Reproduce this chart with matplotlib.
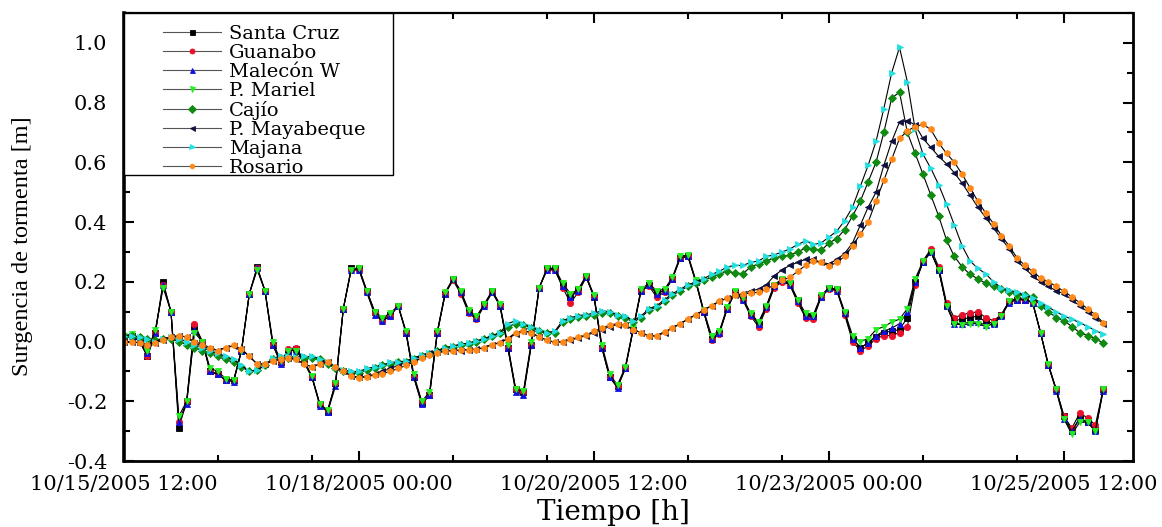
import numpy as np
import pandas as pd
import matplotlib
matplotlib.use('Agg')
import matplotlib.pyplot as plt
import matplotlib.dates as mdates
from matplotlib.ticker import FixedLocator, MultipleLocator, FormatStrFormatter
from matplotlib.patches import Rectangle

plt.rcParams['axes.unicode_minus'] = False

# time axis: one reading every 2 h starting 10/15/2005 12:00
start = pd.Timestamp('2005-10-15 12:00')
hours = np.arange(0, 251, 2)
times = start + pd.to_timedelta(hours, unit='h')

santa_cruz = [
    0.01, 0.02, 0.0, -0.05, 0.03, 0.2, 0.1, -0.29, -0.2, 0.05,
    0.0, -0.1, -0.11, -0.13, -0.13, -0.03, 0.16, 0.25, 0.17, -0.01,
    -0.07, -0.03, -0.025, -0.07, -0.12, -0.21, -0.235, -0.14, 0.11, 0.245,
    0.245, 0.17, 0.1, 0.075, 0.09, 0.12, 0.03, -0.12, -0.205, -0.18,
    0.03, 0.16, 0.21, 0.165, 0.1, 0.08, 0.125, 0.17, 0.12, -0.02,
    -0.16, -0.17, -0.01, 0.18, 0.245, 0.245, 0.19, 0.15, 0.175, 0.22,
    0.15, -0.02, -0.12, -0.15, -0.09, 0.04, 0.17, 0.19, 0.165, 0.17,
    0.21, 0.28, 0.285, 0.2, 0.1, 0.01, 0.03, 0.11, 0.165, 0.145,
    0.09, 0.06, 0.115, 0.185, 0.205, 0.195, 0.14, 0.085, 0.085, 0.15,
    0.18, 0.175, 0.095, 0.01, -0.02, -0.005, 0.015, 0.03, 0.035, 0.04,
    0.08, 0.2, 0.265, 0.3, 0.24, 0.12, 0.07, 0.075, 0.08, 0.085,
    0.065, 0.063, 0.09, 0.135, 0.14, 0.14, 0.13, 0.03, -0.08, -0.16,
    -0.25, -0.3, -0.255, -0.27, -0.295, -0.16]

guanabo = [
    0.01, 0.02, 0.0, -0.05, 0.03, 0.19, 0.1, -0.27, -0.2, 0.06,
    0.0, -0.1, -0.11, -0.13, -0.13, -0.03, 0.16, 0.245, 0.17, -0.01,
    -0.07, -0.025, -0.02, -0.065, -0.12, -0.21, -0.23, -0.14, 0.11, 0.24,
    0.24, 0.165, 0.095, 0.07, 0.085, 0.12, 0.03, -0.12, -0.2, -0.18,
    0.03, 0.16, 0.205, 0.16, 0.095, 0.075, 0.12, 0.165, 0.12, -0.02,
    -0.16, -0.17, -0.01, 0.18, 0.24, 0.24, 0.18, 0.13, 0.165, 0.215,
    0.15, -0.02, -0.12, -0.15, -0.09, 0.04, 0.17, 0.185, 0.15, 0.165,
    0.21, 0.28, 0.285, 0.2, 0.1, 0.005, 0.025, 0.11, 0.165, 0.14,
    0.085, 0.05, 0.11, 0.18, 0.2, 0.19, 0.13, 0.08, 0.075, 0.15,
    0.175, 0.17, 0.09, 0.0, -0.03, -0.015, 0.01, 0.02, 0.02, 0.03,
    0.05, 0.19, 0.27, 0.31, 0.25, 0.13, 0.08, 0.09, 0.095, 0.1,
    0.08, 0.07, 0.09, 0.135, 0.14, 0.14, 0.13, 0.03, -0.08, -0.16,
    -0.25, -0.29, -0.24, -0.255, -0.28, -0.16]

malecon_w = [
    0.01, 0.02, 0.0, -0.04, 0.03, 0.19, 0.1, -0.27, -0.21, 0.04,
    0.0, -0.1, -0.11, -0.13, -0.135, -0.03, 0.16, 0.245, 0.17, -0.01,
    -0.075, -0.03, -0.03, -0.07, -0.12, -0.215, -0.235, -0.15, 0.11, 0.24,
    0.24, 0.165, 0.09, 0.07, 0.085, 0.12, 0.03, -0.12, -0.21, -0.18,
    0.03, 0.16, 0.21, 0.165, 0.1, 0.08, 0.12, 0.165, 0.12, -0.02,
    -0.17, -0.18, -0.01, 0.18, 0.24, 0.24, 0.185, 0.15, 0.17, 0.215,
    0.15, -0.02, -0.12, -0.155, -0.09, 0.04, 0.17, 0.19, 0.16, 0.17,
    0.21, 0.28, 0.285, 0.2, 0.1, 0.01, 0.03, 0.11, 0.165, 0.14,
    0.09, 0.06, 0.115, 0.185, 0.205, 0.19, 0.135, 0.085, 0.085, 0.15,
    0.18, 0.17, 0.095, 0.01, -0.02, -0.005, 0.02, 0.035, 0.045, 0.06,
    0.1, 0.2, 0.265, 0.3, 0.24, 0.12, 0.06, 0.06, 0.065, 0.065,
    0.055, 0.06, 0.085, 0.13, 0.14, 0.14, 0.13, 0.03, -0.08, -0.165,
    -0.26, -0.3, -0.26, -0.27, -0.3, -0.165]

p_mariel = [
    0.02, 0.025, 0.01, -0.03, 0.04, 0.18, 0.1, -0.25, -0.2, 0.03,
    0.0, -0.09, -0.1, -0.125, -0.13, -0.03, 0.16, 0.24, 0.17, 0.0,
    -0.065, -0.03, -0.03, -0.065, -0.115, -0.21, -0.23, -0.14, 0.11, 0.24,
    0.245, 0.17, 0.1, 0.08, 0.095, 0.12, 0.035, -0.11, -0.2, -0.17,
    0.035, 0.165, 0.21, 0.17, 0.105, 0.085, 0.125, 0.17, 0.125, -0.01,
    -0.16, -0.165, 0.0, 0.18, 0.245, 0.245, 0.195, 0.16, 0.175, 0.22,
    0.155, -0.01, -0.11, -0.145, -0.085, 0.045, 0.175, 0.195, 0.17, 0.175,
    0.215, 0.285, 0.29, 0.205, 0.105, 0.02, 0.035, 0.115, 0.17, 0.145,
    0.095, 0.065, 0.12, 0.19, 0.21, 0.195, 0.14, 0.095, 0.09, 0.155,
    0.18, 0.175, 0.1, 0.02, 0.0, 0.01, 0.04, 0.05, 0.065, 0.075,
    0.11, 0.21, 0.27, 0.3, 0.24, 0.12, 0.06, 0.055, 0.06, 0.06,
    0.05, 0.06, 0.085, 0.135, 0.145, 0.145, 0.13, 0.03, -0.075, -0.16,
    -0.26, -0.31, -0.27, -0.27, -0.3, -0.16]

cajio = [
    0.02, 0.02, 0.015, 0.01, 0.005, 0.01, 0.01, 0.0, -0.01, -0.02,
    -0.03, -0.04, -0.05, -0.06, -0.07, -0.085, -0.1, -0.095, -0.08, -0.06,
    -0.055, -0.055, -0.055, -0.055, -0.055, -0.06, -0.075, -0.09, -0.1, -0.105,
    -0.105, -0.095, -0.09, -0.08, -0.075, -0.07, -0.068, -0.058, -0.048, -0.043,
    -0.033, -0.023, -0.018, -0.01, -0.007, 0.0, 0.007, 0.017, 0.027, 0.05,
    0.06, 0.055, 0.045, 0.035, 0.027, 0.03, 0.065, 0.075, 0.082, 0.085,
    0.09, 0.097, 0.095, 0.085, 0.08, 0.065, 0.08, 0.105, 0.115, 0.135,
    0.155, 0.17, 0.185, 0.195, 0.205, 0.215, 0.225, 0.235, 0.23, 0.227,
    0.25, 0.26, 0.27, 0.28, 0.285, 0.29, 0.3, 0.313, 0.31, 0.305,
    0.33, 0.345, 0.375, 0.42, 0.47, 0.535, 0.6, 0.7, 0.815, 0.835,
    0.7, 0.63, 0.56, 0.49, 0.42, 0.34, 0.285, 0.25, 0.225, 0.21,
    0.195, 0.185, 0.175, 0.165, 0.16, 0.155, 0.15, 0.12, 0.1, 0.08,
    0.07, 0.05, 0.03, 0.02, 0.01, -0.005]

p_mayabeque = [
    0.0, 0.0, -0.005, -0.01, -0.005, 0.005, 0.015, 0.02, 0.015, -0.005,
    -0.015, -0.025, -0.03, -0.02, -0.015, -0.025, -0.05, -0.075, -0.075, -0.065,
    -0.06, -0.055, -0.06, -0.075, -0.085, -0.075, -0.07, -0.085, -0.1, -0.115,
    -0.12, -0.115, -0.11, -0.1, -0.09, -0.08, -0.07, -0.06, -0.05, -0.04,
    -0.035, -0.03, -0.03, -0.03, -0.027, -0.025, -0.02, -0.01, -0.003, 0.01,
    0.025, 0.035, 0.03, 0.015, 0.005, -0.003, 0.0, 0.005, 0.012, 0.02,
    0.03, 0.04, 0.05, 0.057, 0.055, 0.04, 0.03, 0.02, 0.018, 0.03,
    0.045, 0.06, 0.075, 0.09, 0.105, 0.12, 0.135, 0.145, 0.155, 0.16,
    0.17, 0.175, 0.19, 0.22, 0.24, 0.255, 0.265, 0.275, 0.275, 0.265,
    0.26, 0.275, 0.295, 0.33, 0.39, 0.45, 0.5, 0.59, 0.67, 0.735,
    0.74, 0.725, 0.68, 0.65, 0.62, 0.595, 0.565, 0.53, 0.49, 0.45,
    0.415, 0.38, 0.345, 0.31, 0.27, 0.245, 0.22, 0.2, 0.185, 0.17,
    0.16, 0.14, 0.12, 0.1, 0.08, 0.06]

majana = [
    0.02, 0.02, 0.015, 0.01, 0.0, 0.01, 0.015, 0.01, 0.0, -0.01,
    -0.02, -0.03, -0.04, -0.05, -0.06, -0.08, -0.1, -0.095, -0.08, -0.055,
    -0.05, -0.05, -0.052, -0.05, -0.05, -0.057, -0.07, -0.085, -0.095, -0.1,
    -0.1, -0.09, -0.085, -0.078, -0.07, -0.068, -0.065, -0.055, -0.045, -0.04,
    -0.03, -0.02, -0.015, -0.008, -0.005, 0.003, 0.01, 0.02, 0.03, 0.06,
    0.07, 0.06, 0.05, 0.04, 0.03, 0.035, 0.07, 0.08, 0.087, 0.09,
    0.095, 0.103, 0.1, 0.09, 0.085, 0.07, 0.085, 0.11, 0.12, 0.14,
    0.16, 0.175, 0.19, 0.2, 0.21, 0.225, 0.235, 0.25, 0.255, 0.255,
    0.265, 0.27, 0.285, 0.29, 0.3, 0.31, 0.325, 0.337, 0.325, 0.33,
    0.35, 0.37, 0.405, 0.45, 0.52, 0.59, 0.67, 0.78, 0.9, 0.985,
    0.87, 0.71, 0.627, 0.58, 0.525, 0.46, 0.39, 0.32, 0.27, 0.245,
    0.227, 0.2, 0.18, 0.172, 0.165, 0.155, 0.147, 0.13, 0.115, 0.1,
    0.085, 0.075, 0.063, 0.05, 0.037, 0.025]

rosario = [
    0.0, 0.0, -0.005, -0.01, -0.005, 0.005, 0.015, 0.02, 0.015, 0.0,
    -0.01, -0.02, -0.03, -0.02, -0.013, -0.025, -0.05, -0.075, -0.075, -0.065,
    -0.06, -0.055, -0.06, -0.075, -0.085, -0.075, -0.068, -0.085, -0.1, -0.115,
    -0.123, -0.118, -0.112, -0.107, -0.1, -0.09, -0.08, -0.068, -0.055, -0.045,
    -0.038, -0.033, -0.03, -0.028, -0.027, -0.027, -0.02, -0.01, -0.005, 0.01,
    0.03, 0.037, 0.03, 0.015, 0.005, -0.003, 0.0, 0.007, 0.014, 0.022,
    0.035, 0.045, 0.055, 0.06, 0.055, 0.04, 0.03, 0.018, 0.02, 0.033,
    0.045, 0.06, 0.075, 0.09, 0.105, 0.12, 0.135, 0.145, 0.155, 0.16,
    0.162, 0.165, 0.175, 0.19, 0.205, 0.215, 0.235, 0.255, 0.27, 0.265,
    0.253, 0.265, 0.285, 0.32, 0.36, 0.4, 0.47, 0.54, 0.61, 0.68,
    0.705, 0.72, 0.727, 0.71, 0.665, 0.63, 0.6, 0.56, 0.515, 0.47,
    0.43, 0.395, 0.355, 0.32, 0.28, 0.255, 0.235, 0.213, 0.2, 0.185,
    0.168, 0.15, 0.13, 0.11, 0.09, 0.063]

names = ['Santa Cruz', 'Guanabo', 'Malecón W', 'P. Mariel', 'Cajío',
         'P. Mayabeque', 'Majana', 'Rosario']
series = [santa_cruz, guanabo, malecon_w, p_mariel, cajio,
          p_mayabeque, majana, rosario]
colors = ['#000000', '#e8102a', '#1010e0', '#22ee22', '#108a10',
          '#101040', '#22e0e0', '#ff8a1a']
markers = ['s', 'o', '^', 'v', 'D', '<', '>', 'h']

fig = plt.figure(figsize=(11.62, 5.27), dpi=100)
ax = fig.add_axes([0.1067, 0.1252, 0.8683, 0.8501])

for name, vals, c, m in zip(names, series, colors, markers):
    ax.plot(times, vals, color='black', lw=0.8, marker=m, ms=4.5,
            mfc=c, mec=c, mew=0.6, label=name)

# axes limits and ticks
ax.set_xlim(start, start + pd.Timedelta(hours=257.6))
ax.set_ylim(-0.4, 1.1)
majors = [start + pd.Timedelta(hours=60 * i) for i in range(5)]
minors = [t + pd.Timedelta(hours=d) for t in majors for d in (24, 48)]
ax.xaxis.set_major_locator(FixedLocator(mdates.date2num(majors)))
ax.xaxis.set_minor_locator(FixedLocator(mdates.date2num(minors)))
ax.xaxis.set_major_formatter(mdates.DateFormatter('%m/%d/%Y %H:%M'))
ax.yaxis.set_major_locator(FixedLocator(np.arange(-0.4, 1.01, 0.2)))
ax.yaxis.set_minor_locator(MultipleLocator(0.1))
ax.yaxis.set_major_formatter(FormatStrFormatter('%.1f'))

ax.tick_params(which='both', direction='in', top=True, right=True, width=1.5)
ax.tick_params(which='major', length=7)
ax.tick_params(which='minor', length=4)
ax.tick_params(axis='x', pad=10)
ax.tick_params(axis='y', pad=12)
for lab in ax.get_xticklabels() + ax.get_yticklabels():
    lab.set_fontfamily('DejaVu Serif')
    lab.set_fontsize(15)
for sp in ax.spines.values():
    sp.set_linewidth(2)
ax.spines['left'].set_linewidth(2.6)
ax.spines['top'].set_linewidth(1.6)

ax.set_ylabel('Surgencia de tormenta [m]', family='Liberation Serif', fontsize=17.5)
ax.yaxis.set_label_coords(-0.09, 0.48)
ax.set_xlabel('Tiempo [h]', family='DejaVu Serif', fontsize=20)
ax.xaxis.set_label_coords(0.485, -0.085)

# legend: box drawn separately so the entries can sit with the original padding
ax.add_patch(Rectangle((0, 1 - 0.362), 0.267, 0.362, transform=ax.transAxes,
                       facecolor='white', edgecolor='black', lw=1, zorder=4))
leg = ax.legend(loc='upper left', bbox_to_anchor=(0.0287, 0.995), frameon=False,
                borderpad=0, handlelength=3.0, handletextpad=0.4,
                labelspacing=0.05, markerscale=0.8,
                prop={'family': 'DejaVu Serif', 'size': 14})
leg.set_zorder(5)
for h in leg.get_lines():
    h.set_linewidth(0.8)
    h.set_color('#555555')

fig.savefig('out.png', dpi=100, facecolor='white')
